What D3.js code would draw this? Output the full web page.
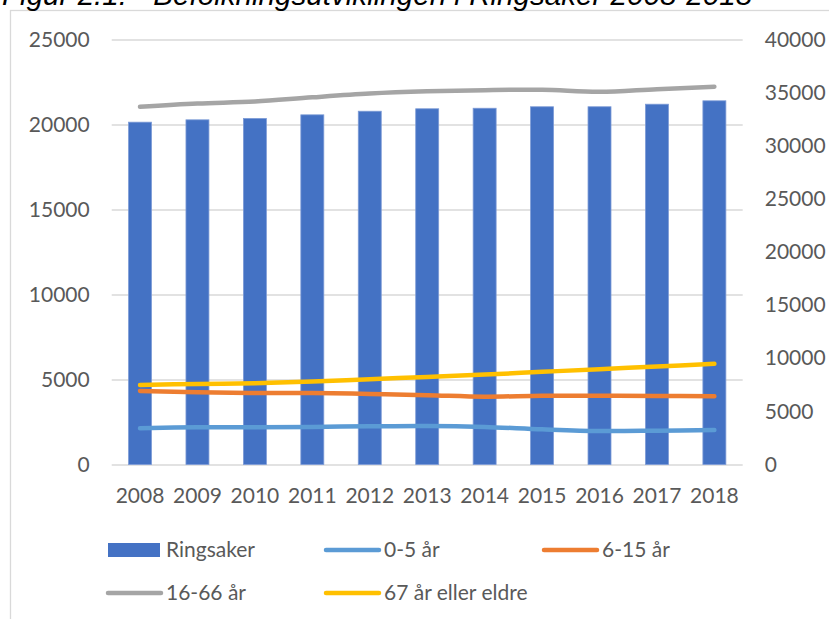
<!DOCTYPE html>
<html>
<head>
<meta charset="utf-8">
<title>Befolkningsutvikling Ringsaker</title>
<script src="https://cdn.jsdelivr.net/npm/d3@7"></script>
<style>
  body { margin: 0; background: #fff; overflow: hidden; }
  text { font-family: Lato, "Open Sans", sans-serif; fill: #595959; }
  .title { font-family: "Liberation Sans", Arial, sans-serif; font-style: italic; fill: #000; }
  .grid line { stroke: #d9d9d9; stroke-width: 1.3px; }
  .series { fill: none; stroke-width: 4.5px; stroke-linecap: round; stroke-linejoin: round; }
</style>
</head>
<body>
<svg id="chart" width="829" height="619"></svg>
<script>
var years = ["2008", "2009", "2010", "2011", "2012", "2013", "2014", "2015", "2016", "2017", "2018"];

// total population, right axis
var ringsaker = [32220, 32440, 32570, 32910, 33250, 33480, 33530, 33670, 33670, 33910, 34230];

// age groups, left axis
var age0to5   = [2130, 2190, 2190, 2210, 2250, 2270, 2210, 2070, 1970, 1990, 2030];
var age6to15  = [4330, 4250, 4210, 4210, 4150, 4080, 3990, 4050, 4050, 4030, 4015];
var age16to66 = [21040, 21230, 21350, 21600, 21820, 21950, 22020, 22040, 21920, 22080, 22220];
var age67plus = [4680, 4740, 4780, 4880, 5020, 5150, 5290, 5450, 5610, 5760, 5920];

var leftTicks  = [0, 5000, 10000, 15000, 20000, 25000];
var rightTicks = [0, 5000, 10000, 15000, 20000, 25000, 30000, 35000, 40000];

var lineSeries = [
  { name: "0-5 år", values: age0to5, color: "#5b9bd5" },
  { name: "6-15 år", values: age6to15, color: "#ed7d31" },
  { name: "16-66 år", values: age16to66, color: "#a5a5a5" },
  { name: "67 år eller eldre", values: age67plus, color: "#ffc000" }
];

var svg = d3.select("#chart");

// chart frame
svg.append("rect")
  .attr("x", 10.5).attr("y", 10.5)
  .attr("width", 900).attr("height", 700)
  .attr("fill", "none").attr("stroke", "#d9d9d9").attr("stroke-width", 1.3);

svg.append("text")
  .attr("class", "title")
  .attr("x", 2).attr("y", 5)
  .style("font-size", "29.6px")
  .text("Figur 2.1: - Befolkningsutviklingen i Ringsaker 2008-2018");

var plotLeft = 111.7, plotRight = 742.7, plotTop = 39.5, plotBottom = 464.5;

var x = d3.scaleBand().domain(years).range([plotLeft, plotRight]).paddingInner(0.6).paddingOuter(0.293);
var yLeft = d3.scaleLinear().domain([0, 25000]).range([plotBottom, plotTop]);
var yRight = d3.scaleLinear().domain([0, 40000]).range([plotBottom, plotTop]);

var grid = svg.append("g")
  .attr("class", "grid")
  .attr("transform", "translate(" + plotLeft + ",0)")
  .call(d3.axisLeft(yLeft).tickValues(leftTicks).tickFormat(d3.format("d"))
    .tickSize(-(plotRight - plotLeft)).tickPadding(22));
grid.select(".domain").remove();
grid.selectAll("text").style("font-size", "21px").attr("fill", "#595959");

var rAxis = svg.append("g")
  .attr("transform", "translate(" + plotRight + ",0)")
  .call(d3.axisRight(yRight).tickValues(rightTicks).tickFormat(d3.format("d"))
    .tickSize(0).tickPadding(22));
rAxis.select(".domain").remove();
rAxis.selectAll("text").style("font-size", "21px").attr("fill", "#595959");

// bars
svg.append("g").selectAll("rect")
  .data(ringsaker)
  .enter().append("rect")
  .attr("x", function(d, i) { return x(years[i]); })
  .attr("y", function(d) { return yRight(d); })
  .attr("width", x.bandwidth())
  .attr("height", function(d) { return yRight(0) - yRight(d); })
  .attr("fill", "#4472c4")
  .attr("stroke", "#7d9bd6")
  .attr("stroke-width", 0.8);

var xAxis = svg.append("g")
  .attr("transform", "translate(0," + plotBottom + ")")
  .call(d3.axisBottom(x).tickSize(0).tickPadding(23.6));
xAxis.select(".domain").remove();
xAxis.selectAll("text").style("font-size", "21px").attr("fill", "#595959");

var line = d3.line()
  .x(function(d, i) { return x(years[i]) + x.bandwidth() / 2; })
  .y(function(d) { return yLeft(d); })
  .curve(d3.curveCatmullRom.alpha(0));

svg.append("g").selectAll("path")
  .data(lineSeries)
  .enter().append("path")
  .attr("class", "series")
  .attr("stroke", function(d) { return d.color; })
  .attr("d", function(d) { return line(d.values); });

// legend
var legendItems = [{ name: "Ringsaker", color: "#4472c4", bar: true }].concat(lineSeries);
var legendPos = [[108, 550], [324, 550], [542, 550], [106, 593], [324, 593]];

var legend = svg.append("g").selectAll("g")
  .data(legendItems)
  .enter().append("g")
  .attr("transform", function(d, i) { return "translate(" + legendPos[i][0] + "," + legendPos[i][1] + ")"; });

legend.filter(function(d) { return d.bar; }).append("rect")
  .attr("x", 0).attr("y", -7).attr("width", 52).attr("height", 14)
  .attr("fill", function(d) { return d.color; });

legend.filter(function(d) { return !d.bar; }).append("line")
  .attr("x1", 2).attr("x2", 55).attr("y1", 0).attr("y2", 0)
  .attr("stroke", function(d) { return d.color; })
  .attr("stroke-width", 4.5).attr("stroke-linecap", "round");

legend.append("text")
  .attr("x", function(d) { return d.bar ? 58 : 60; })
  .attr("dy", "0.35em")
  .style("font-size", "21px")
  .text(function(d) { return d.name; });
</script>
</body>
</html>
